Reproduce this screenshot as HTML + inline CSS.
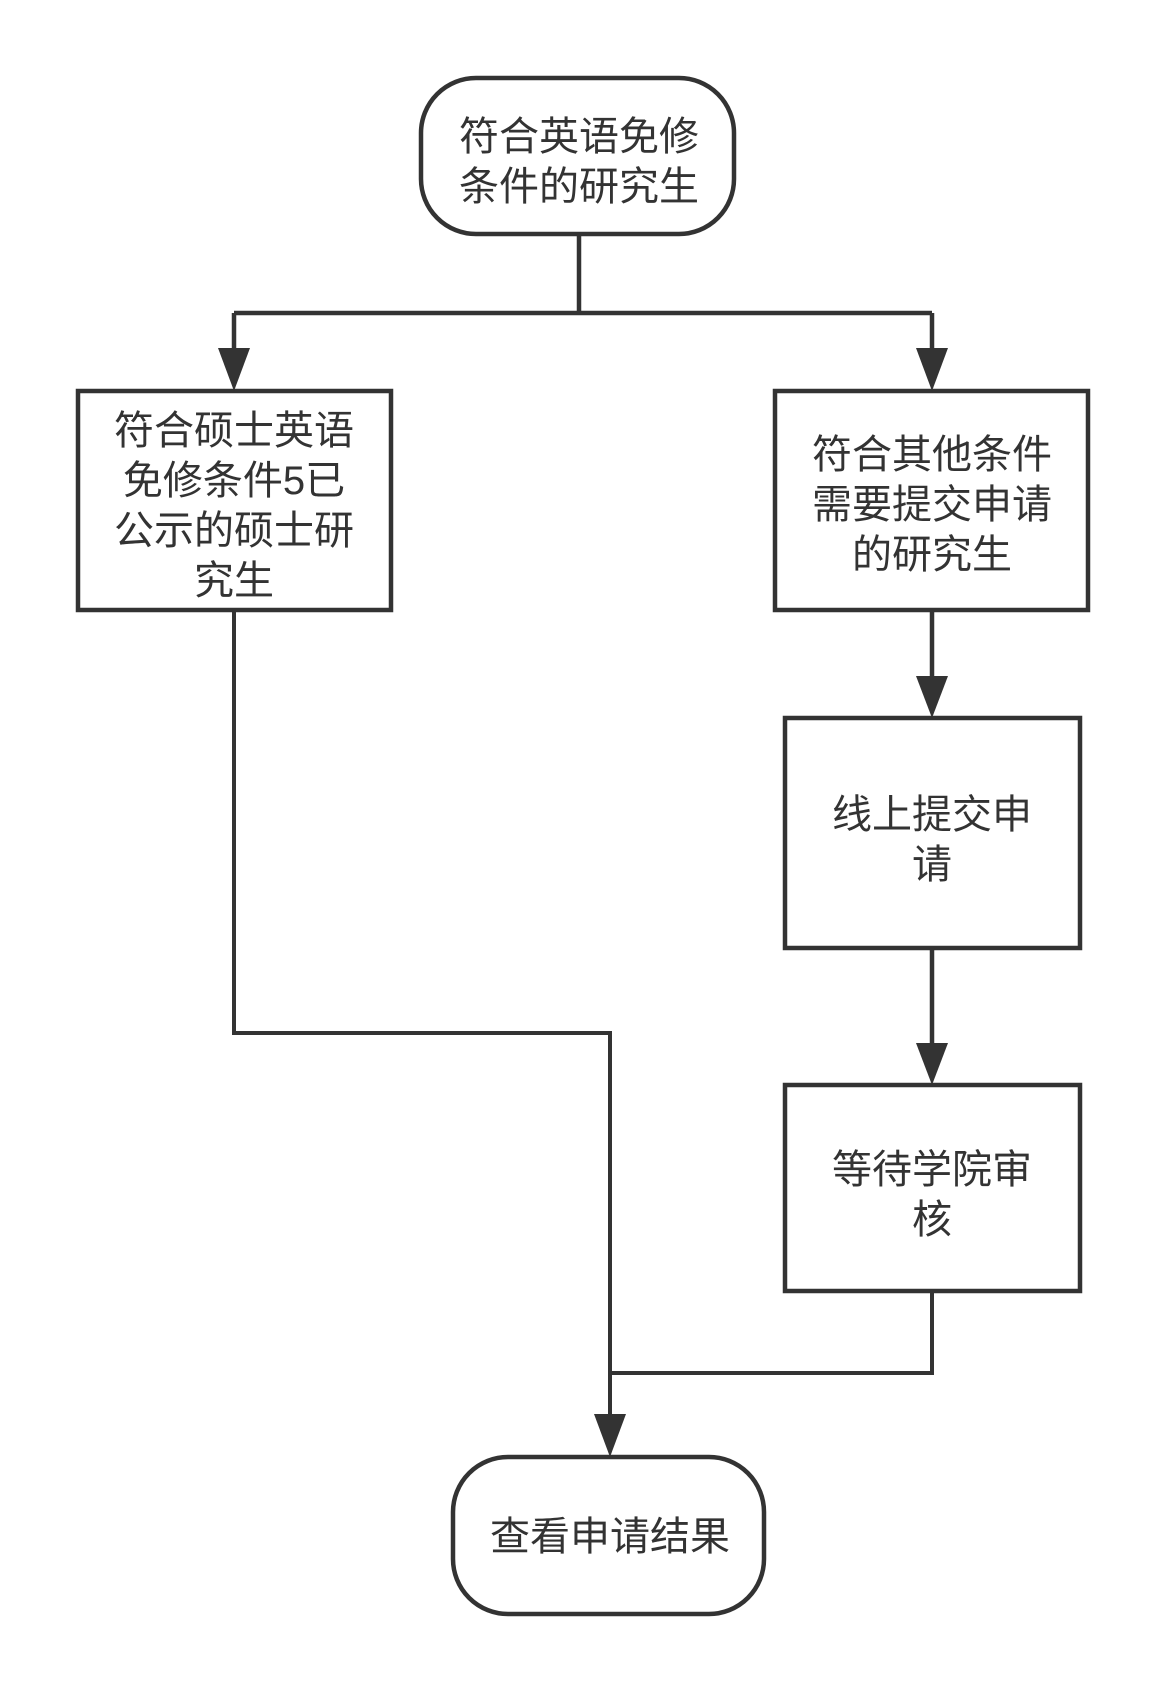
<!DOCTYPE html>
<html><head><meta charset="utf-8"><style>
html,body{margin:0;padding:0;background:#fff;}
svg{display:block;}
text{font-family:"Liberation Sans","Noto Sans CJK SC",sans-serif;font-size:40px;fill:#333;text-anchor:middle;}
</style></head><body>
<svg width="1166" height="1691" viewBox="0 0 1166 1691">
<g fill="none" stroke="#333" stroke-width="4.5">
<rect x="421" y="78" width="313" height="156" rx="55" fill="#fff"/>
<path d="M579 234 V313 M234 313 H932 M234 313 V350 M932 313 V350"/>
<rect x="78" y="391" width="313" height="219" fill="#fff"/>
<rect x="775" y="391" width="313" height="219" fill="#fff"/>
<path d="M932 610 V678"/>
<rect x="785" y="718" width="295" height="230" fill="#fff"/>
<path d="M932 948 V1045"/>
<rect x="785" y="1085" width="295" height="206" fill="#fff"/>
<path d="M234 610 V1033 H610 V1415 M932 1291 V1373 H610" stroke-width="4"/>
<rect x="453" y="1457" width="311" height="157" rx="55" fill="#fff"/>
</g>
<g fill="#333">
<path d="M218 348 L250 348 L234 391 Z"/>
<path d="M916 348 L948 348 L932 391 Z"/>
<path d="M916 676 L948 676 L932 718 Z"/>
<path d="M916 1043 L948 1043 L932 1085 Z"/>
<path d="M594 1414 L626 1414 L610 1457 Z"/>
</g>
<text x="579" y="150">符合英语免修</text>
<text x="579" y="200">条件的研究生</text>
<text x="234" y="444">符合硕士英语</text>
<text x="234" y="494">免修条件5已</text>
<text x="234" y="544">公示的硕士研</text>
<text x="234" y="594">究生</text>
<text x="932" y="468">符合其他条件</text>
<text x="932" y="518">需要提交申请</text>
<text x="932" y="568">的研究生</text>
<text x="932" y="828">线上提交申</text>
<text x="932" y="878">请</text>
<text x="932" y="1183">等待学院审</text>
<text x="932" y="1233">核</text>
<text x="610" y="1550">查看申请结果</text>
</svg>
</body></html>
